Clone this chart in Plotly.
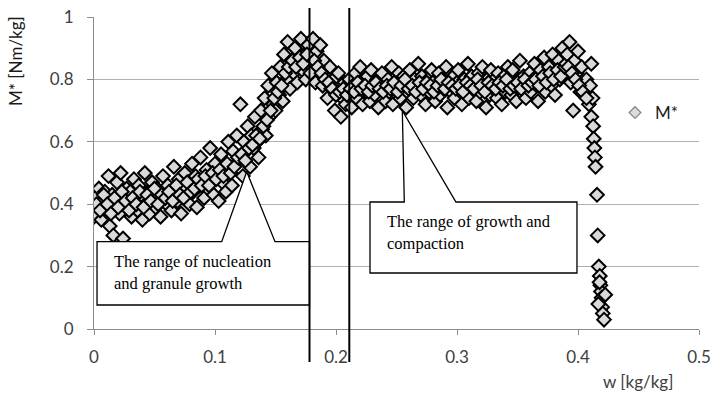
import plotly.graph_objects as go

# ---- data ----
w = [
    0.000,0.001,0.003,0.004,0.006,0.007,0.009,0.010,0.012,0.013,0.015,0.016,0.018,0.019,0.021,0.022,0.024,0.025,0.027,0.028,
    0.030,0.031,0.033,0.034,0.036,0.037,0.039,0.040,0.042,0.043,0.045,0.046,0.048,0.049,0.051,0.052,0.054,0.055,0.057,0.058,
    0.060,0.061,0.063,0.064,0.066,0.067,0.069,0.070,0.072,0.073,0.075,0.076,0.078,0.079,0.081,0.082,0.084,0.085,0.087,0.088,
    0.090,0.091,0.093,0.094,0.096,0.097,0.099,0.100,0.102,0.103,0.105,0.106,0.108,0.109,0.111,0.112,0.114,0.115,0.117,0.118,
    0.120,0.121,0.123,0.124,0.126,0.127,0.129,0.130,0.132,0.133,0.135,0.136,0.138,0.139,0.141,0.142,0.144,0.145,0.147,0.148,
    0.150,0.151,0.153,0.154,0.156,0.157,0.159,0.160,0.162,0.163,0.165,0.166,0.168,0.169,0.171,0.172,0.174,0.175,0.177,0.178,
    0.180,0.181,0.183,0.184,0.186,0.187,0.189,0.190,0.192,0.193,0.195,0.196,0.198,0.199,0.201,0.202,0.204,0.205,0.207,0.208,
    0.210,0.211,0.213,0.214,0.216,0.217,0.219,0.220,0.222,0.223,0.225,0.226,0.228,0.229,0.231,0.232,0.234,0.235,0.237,0.238,
    0.240,0.241,0.243,0.244,0.246,0.247,0.249,0.250,0.252,0.253,0.255,0.256,0.258,0.259,0.261,0.262,0.264,0.265,0.267,0.268,
    0.270,0.271,0.273,0.274,0.276,0.277,0.279,0.280,0.282,0.283,0.285,0.286,0.288,0.289,0.291,0.292,0.294,0.295,0.297,0.298,
    0.300,0.301,0.303,0.304,0.306,0.307,0.309,0.310,0.312,0.313,0.315,0.316,0.318,0.319,0.321,0.322,0.324,0.325,0.327,0.328,
    0.330,0.331,0.333,0.334,0.336,0.337,0.339,0.340,0.342,0.343,0.345,0.346,0.348,0.349,0.351,0.352,0.354,0.355,0.357,0.358,
    0.360,0.361,0.363,0.364,0.366,0.367,0.369,0.370,0.372,0.373,0.375,0.376,0.378,0.379,0.381,0.382,0.384,0.385,0.387,0.388,
    0.002,0.005,0.008,0.011,0.014,0.017,0.020,0.023,0.026,0.029,
    0.032,0.035,0.038,0.041,0.044,0.047,0.050,0.053,0.056,0.059,
    0.062,0.065,0.068,0.071,0.074,0.077,0.080,0.083,0.086,0.089,
    0.092,0.095,0.098,0.101,0.104,0.107,0.110,0.113,0.116,0.119,
    0.122,0.125,0.128,0.131,0.134,0.137,0.140,0.143,0.146,0.149,
    0.152,0.155,0.158,0.161,0.164,0.167,0.170,0.173,0.176,0.179,
    0.182,0.185,0.188,0.191,0.194,0.197,0.200,0.203,0.206,0.209,
    0.212,0.215,0.218,0.221,0.224,0.227,0.230,0.233,0.236,0.239,
    0.242,0.245,0.248,0.251,0.254,0.257,0.260,0.263,0.266,0.269,
    0.272,0.275,0.278,0.281,0.284,0.287,0.290,0.293,0.296,0.299,
    0.302,0.305,0.308,0.311,0.314,0.317,0.320,0.323,0.326,0.329,
    0.332,0.335,0.338,0.341,0.344,0.347,0.350,0.353,0.356,0.359,
    0.362,0.365,0.368,0.371,0.374,0.377,0.380,0.383,0.386,0.389,
    0.390,0.391,0.393,0.394,0.396,0.397,0.399,0.400,0.402,0.403,
    0.407,0.409,0.410,0.411,0.412,0.4125,0.413,0.4135,0.414,0.4145,
    0.392,0.395,0.398,0.401,0.404,0.407,0.411,
    0.4157,0.4163,0.4172,0.418,0.4185,0.419,0.4195,0.420,0.4205,0.4215,0.4168,0.4178,0.4225,
]
m_star = [
    0.36,0.42,0.39,0.45,0.35,0.41,0.44,0.38,0.49,0.33,0.43,0.30,0.40,0.47,0.37,0.50,0.29,0.42,0.45,0.39,
    0.44,0.36,0.48,0.41,0.38,0.46,0.43,0.35,0.50,0.40,0.44,0.37,0.47,0.42,0.39,0.45,0.41,0.36,0.49,0.43,
    0.40,0.46,0.43,0.38,0.52,0.44,0.41,0.48,0.37,0.45,0.50,0.42,0.47,0.40,0.53,0.44,0.49,0.39,0.46,0.55,
    0.47,0.42,0.51,0.45,0.58,0.48,0.43,0.53,0.49,0.41,0.56,0.47,0.52,0.44,0.60,0.50,0.46,0.57,0.53,0.62,
    0.55,0.72,0.49,0.60,0.57,0.65,0.52,0.62,0.58,0.68,0.60,0.55,0.70,0.64,0.74,0.62,0.78,0.68,0.82,0.72,
    0.70,0.79,0.75,0.84,0.73,0.88,0.80,0.92,0.77,0.86,0.82,0.90,0.79,0.85,0.93,0.83,0.88,0.80,0.91,0.86,
    0.84,0.93,0.79,0.89,0.83,0.91,0.78,0.86,0.81,0.74,0.84,0.77,0.80,0.70,0.76,0.82,0.68,0.74,0.79,0.72,
    0.75,0.80,0.71,0.78,0.82,0.74,0.77,0.84,0.72,0.79,0.76,0.81,0.73,0.83,0.78,0.75,0.80,0.71,0.77,0.82,
    0.78,0.73,0.80,0.76,0.84,0.72,0.79,0.77,0.82,0.74,0.78,0.81,0.71,0.76,0.83,0.79,0.74,0.80,0.77,0.85,
    0.75,0.81,0.78,0.72,0.80,0.76,0.83,0.79,0.73,0.78,0.82,0.75,0.80,0.77,0.84,0.71,0.79,0.76,0.81,0.74,
    0.79,0.83,0.76,0.72,0.80,0.78,0.85,0.74,0.81,0.77,0.79,0.73,0.82,0.76,0.84,0.78,0.71,0.80,0.75,0.83,
    0.77,0.80,0.74,0.82,0.78,0.72,0.81,0.76,0.84,0.79,0.75,0.83,0.78,0.73,0.80,0.86,0.77,0.81,0.74,0.79,
    0.82,0.76,0.80,0.85,0.78,0.73,0.83,0.79,0.87,0.76,0.81,0.84,0.78,0.88,0.75,0.82,0.86,0.80,0.90,0.83,
    0.40,0.38,0.43,0.40,0.37,0.42,0.39,0.44,0.41,0.38,
    0.42,0.40,0.44,0.39,0.43,0.41,0.45,0.40,0.43,0.42,
    0.44,0.41,0.46,0.43,0.42,0.47,0.44,0.45,0.48,0.46,
    0.49,0.46,0.50,0.48,0.51,0.49,0.53,0.50,0.52,0.55,
    0.56,0.54,0.58,0.59,0.62,0.61,0.65,0.67,0.70,0.74,
    0.76,0.78,0.82,0.84,0.86,0.84,0.87,0.85,0.88,0.82,
    0.86,0.84,0.82,0.80,0.79,0.77,0.75,0.76,0.77,0.75,
    0.77,0.76,0.79,0.77,0.78,0.76,0.78,0.79,0.77,0.76,
    0.78,0.77,0.79,0.76,0.78,0.80,0.77,0.78,0.76,0.79,
    0.77,0.79,0.78,0.76,0.78,0.80,0.77,0.79,0.78,0.77,
    0.78,0.76,0.79,0.78,0.77,0.80,0.78,0.76,0.79,0.78,
    0.77,0.79,0.78,0.80,0.77,0.78,0.79,0.77,0.80,0.78,
    0.79,0.80,0.78,0.81,0.79,0.82,0.80,0.83,0.81,0.84,
    0.85,0.88,0.92,0.79,0.70,0.86,0.82,0.89,0.76,0.84,
    0.80,0.72,0.78,0.68,0.74,0.65,0.61,0.58,0.55,0.52,
    0.84,0.82,0.80,0.78,0.76,0.74,0.85,
    0.43,0.30,0.20,0.17,0.14,0.12,0.10,0.07,0.05,0.03,0.08,0.15,0.11,
]
series_name = "M*"
x_title = "w [kg/kg]"
y_title = "M* [Nm/kg]"
note_1 = ["The range of nucleation", "and granule growth"]
note_2 = ["The range of growth and", "compaction"]

# ---- layout helpers (pixel -> paper) ----
L, R, T, B = 94, 699, 17, 329
def px(xp):
    return (xp - L) / (R - L)
def py(yp):
    return (B - yp) / (B - T)

fig = go.Figure()
fig.add_trace(go.Scatter(
    x=w, y=m_star, mode="markers", name=series_name, showlegend=False,
    marker=dict(symbol="diamond", size=10.5, color="#d9d9d9",
                line=dict(color="black", width=2)),
))
fig.add_trace(go.Scatter(
    x=[None], y=[None], mode="markers", name=series_name, showlegend=True,
    marker=dict(symbol="diamond", size=9, color="#dcdcdc",
                line=dict(color="#8a8a8a", width=1.3)),
))

def callout(box, wedge):
    l, t, r, b = box
    bl, tx, ty, br = wedge
    pts = [(l, t), (bl, t), (tx, ty), (br, t), (r, t), (r, b), (l, b)]
    d = "M " + " L ".join(f"{px(a):.4f},{py(c):.4f}" for a, c in pts) + " Z"
    return dict(type="path", path=d, xref="paper", yref="paper",
                fillcolor="white", line=dict(color="black", width=1.3),
                layer="above")

shapes = [
    callout((97, 241.7, 309.5, 305), (221.7, 246.7, 171.7, 275)),
    callout((370, 202, 577, 273), (404.3, 402.3, 110.7, 456)),
    dict(type="line", xref="paper", yref="paper", x0=px(309.5), x1=px(309.5),
         y0=py(8), y1=py(362), line=dict(color="black", width=2), layer="above"),
    dict(type="line", xref="paper", yref="paper", x0=px(349.3), x1=px(349.3),
         y0=py(8), y1=py(362), line=dict(color="black", width=2), layer="above"),
]

serif = dict(family="Liberation Serif, 'Times New Roman', DejaVu Serif, serif",
             size=16.5, color="black")
annotations = [
    dict(text=note_1[0], x=px(112), y=py(261), xref="paper", yref="paper",
         xanchor="left", yanchor="middle", showarrow=False, font=serif),
    dict(text=note_1[1], x=px(112), y=py(283), xref="paper", yref="paper",
         xanchor="left", yanchor="middle", showarrow=False, font=serif),
    dict(text=note_2[0], x=px(385), y=py(221), xref="paper", yref="paper",
         xanchor="left", yanchor="middle", showarrow=False, font=serif),
    dict(text=note_2[1], x=px(385), y=py(243), xref="paper", yref="paper",
         xanchor="left", yanchor="middle", showarrow=False, font=serif),
    dict(text=y_title, x=px(15), y=py(61), xref="paper", yref="paper",
         textangle=-90, xanchor="center", yanchor="middle", showarrow=False,
         font=dict(family="Lato", size=17, color="#1a1a1a")),
    dict(text=x_title, x=px(638), y=py(381), xref="paper", yref="paper",
         xanchor="center", yanchor="middle", showarrow=False,
         font=dict(family="Lato", size=17, color="#404040")),
]

fig.update_layout(
    width=714, height=398,
    margin=dict(l=L, r=714 - R, t=T, b=398 - B, autoexpand=False),
    plot_bgcolor="white", paper_bgcolor="white",
    font=dict(family="Lato", size=17, color="#404040"),
    shapes=shapes, annotations=annotations,
    showlegend=True,
    legend=dict(x=px(615), y=py(113), xanchor="left", yanchor="middle",
                bgcolor="rgba(0,0,0,0)", font=dict(size=17, color="#1a1a1a")),
)
fig.update_xaxes(range=[0, 0.5], dtick=0.1, tick0=0, showgrid=False,
                 showline=True, linecolor="#8c8c8c", linewidth=1,
                 ticks="outside", ticklen=5, tickcolor="#8c8c8c",
                 zeroline=False, ticklabelstandoff=8)
fig.update_yaxes(range=[0, 1], dtick=0.2, tick0=0, showgrid=True,
                 gridcolor="#b0b0b0", gridwidth=1,
                 showline=True, linecolor="#8c8c8c", linewidth=1,
                 ticks="outside", ticklen=6, tickcolor="#8c8c8c",
                 zeroline=False, ticklabelstandoff=10)

fig.write_html("out.html")
